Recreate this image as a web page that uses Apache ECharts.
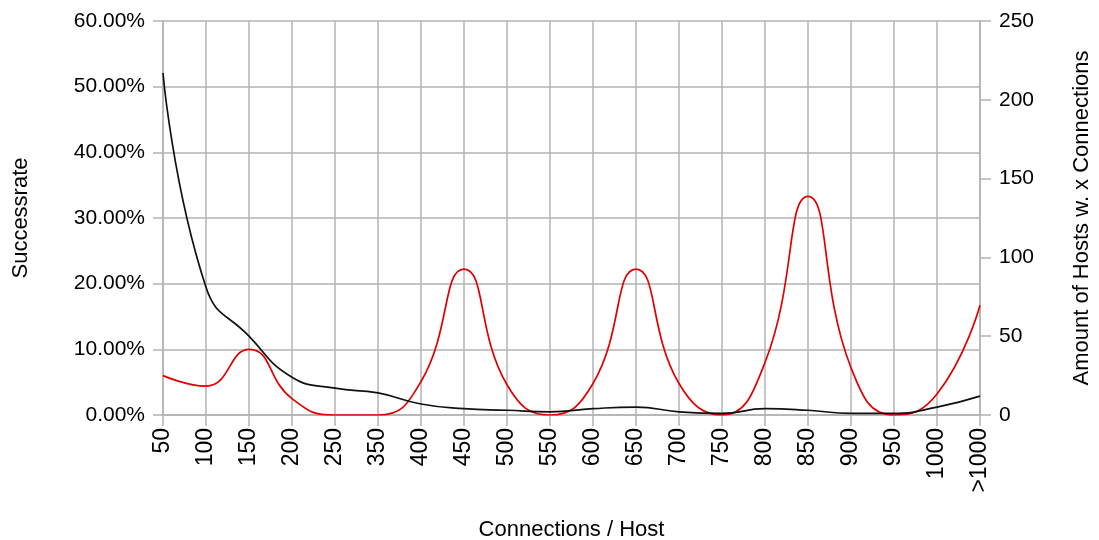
<!DOCTYPE html>
<html>
<head>
<meta charset="utf-8">
<title>Successrate / Hosts</title>
<script src="https://cdn.jsdelivr.net/npm/echarts@6/dist/echarts.min.js"></script>
<style>
    html, body { margin: 0; padding: 0; background: #fff; }
    #chart_con { width: 1099px; height: 540px; }
</style>
</head>
<body>
<div id="chart_con"></div>
<script>
// connections per host buckets (no 300 bucket in the source)
const categories = ['50', '100', '150', '200', '250', '350', '400', '450', '500', '550',
    '600', '650', '700', '750', '800', '850', '900', '950', '1000', '>1000'];
// success rate in percent (left axis)
const successRate = [6.0, 4.4, 10.0, 2.5, 0, 0, 5.1, 22.2, 4.6, 0,
    4.8, 22.2, 4.8, 0, 8.0, 33.3, 7.2, 0, 3.2, 16.7];
// amount of hosts with x connections (right axis)
const hostCount = [217, 81, 50, 24, 17, 14, 7, 4, 3, 2,
    4, 5, 2, 1, 4, 3, 1, 1, 5, 12];
const leftTicks = [0, 60, 10];   // min, max, interval
const rightTicks = [0, 250, 50];

const font = 'Liberation Sans';
const gridColor = '#b3b3b3';

let chart = echarts.init(document.getElementById('chart_con'));

const option = {
    animation: false,
    grid: {
        left: 163,
        right: 119,
        top: 21,
        bottom: 125,
        outerBoundsMode: 'none'
    },
    xAxis: {
        type: 'category',
        boundaryGap: false,
        data: categories,
        name: 'Connections / Host',
        nameLocation: 'middle',
        nameGap: 104,
        nameTextStyle: { fontFamily: font, fontSize: 22, color: '#000' },
        axisLine: { lineStyle: { color: gridColor, width: 1.5 } },
        axisTick: { length: 11, lineStyle: { color: gridColor, width: 1.5 } },
        axisLabel: {
            rotate: 90,
            margin: 13,
            interval: 0,
            fontFamily: font,
            fontSize: 23,
            color: '#000'
        },
        splitLine: { show: true, lineStyle: { color: gridColor, width: 1.5 } }
    },
    yAxis: [
        {
            type: 'value',
            min: leftTicks[0],
            max: leftTicks[1],
            interval: leftTicks[2],
            name: 'Successrate',
            nameLocation: 'middle',
            nameGap: 131,
            nameTextStyle: { fontFamily: font, fontSize: 22, color: '#000' },
            axisLine: { show: true, lineStyle: { color: gridColor, width: 1.5 } },
            axisTick: { show: true, length: 10, lineStyle: { color: gridColor, width: 1.5 } },
            axisLabel: {
                margin: 18,
                fontFamily: font,
                fontSize: 21,
                color: '#000',
                formatter: function (v) { return v.toFixed(2) + '%'; }
            },
            splitLine: { show: true, lineStyle: { color: gridColor, width: 1.5 } }
        },
        {
            type: 'value',
            min: rightTicks[0],
            max: rightTicks[1],
            interval: rightTicks[2],
            name: 'Amount of Hosts w. x Connections',
            nameLocation: 'middle',
            nameGap: 91,
            nameRotate: 90,
            nameTextStyle: { fontFamily: font, fontSize: 22, color: '#000' },
            axisLine: { show: true, lineStyle: { color: gridColor, width: 1.5 } },
            axisTick: { show: true, length: 11, lineStyle: { color: gridColor, width: 1.5 } },
            axisLabel: {
                margin: 19,
                fontFamily: font,
                fontSize: 21,
                color: '#000'
            },
            splitLine: { show: false }
        }
    ],
    series: [
        {
            name: 'Successrate',
            type: 'line',
            yAxisIndex: 0,
            data: successRate,
            smooth: 0.5,
            showSymbol: false,
            lineStyle: { color: '#e00000', width: 1.7 },
            itemStyle: { color: '#e00000' }
        },
        {
            name: 'Hosts',
            type: 'line',
            yAxisIndex: 1,
            data: hostCount,
            smooth: 0.5,
            showSymbol: false,
            lineStyle: { color: '#111', width: 1.7 },
            itemStyle: { color: '#111' }
        }
    ]
};
chart.setOption(option);

window.addEventListener('resize', function () {
    chart.resize();
});
</script>
</body>
</html>
